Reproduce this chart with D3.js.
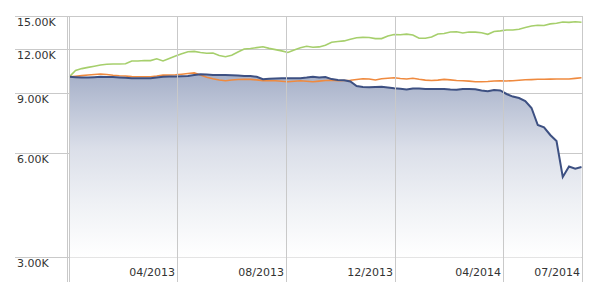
<!DOCTYPE html>
<html>
<head>
<meta charset="utf-8">
<script src="https://cdn.jsdelivr.net/npm/d3@7"></script>
<style>
  body { margin: 0; background: #fff; }
  text { font-family: "DejaVu Sans", Verdana, sans-serif; font-size: 11px; fill: #333; }
</style>
</head>
<body>
<svg id="chart" width="591" height="291"></svg>
<script>
// weekly growth of 10K, first week 01/12/2012
var firstWeek = '2012-12-01'

var fundValues = [10000, 9975, 9948, 9948, 9975, 10002, 9995, 9982, 9962, 9942,
  9909, 9902, 9902, 9902, 9955, 10002, 10015, 10028, 10041, 10048,
  10122, 10169, 10149, 10122, 10122, 10122, 10108, 10082, 10055, 10055,
  10002, 9843, 9870, 9896, 9902, 9902, 9902, 9902, 9948, 10008,
  9955, 9988, 9850, 9791, 9778, 9693, 9406, 9344, 9325, 9350,
  9356, 9319, 9270, 9233, 9189, 9257, 9245, 9220, 9220, 9220,
  9220, 9189, 9171, 9220, 9220, 9202, 9123, 9080, 9159, 9129,
  8918, 8765, 8683, 8511, 8122, 7252, 7143, 6785, 6519, 5129,
  5499, 5419, 5481]

var categoryValues = [10000, 10041, 10082, 10122, 10156, 10190, 10156, 10108, 10075, 10055,
  10015, 10008, 10008, 10008, 10055, 10115, 10122, 10135, 10176, 10224,
  10265, 10122, 9975, 9876, 9791, 9745, 9791, 9823, 9837, 9830,
  9797, 9752, 9745, 9745, 9712, 9680, 9712, 9739, 9706, 9680,
  9719, 9758, 9778, 9745, 9758, 9778, 9823, 9876, 9856, 9791,
  9876, 9909, 9935, 9889, 9856, 9902, 9837, 9784, 9758, 9784,
  9830, 9797, 9758, 9739, 9719, 9680, 9680, 9693, 9726, 9739,
  9726, 9745, 9771, 9804, 9817, 9837, 9843, 9850, 9856, 9856,
  9856, 9896, 9935]

var indexValues = [10000, 10431, 10563, 10648, 10734, 10820, 10870, 10892, 10892, 10906,
  11112, 11112, 11149, 11142, 11277, 11112, 11307, 11489, 11659, 11816,
  11847, 11760, 11706, 11721, 11520, 11428, 11550, 11799, 12038, 12078,
  12151, 12216, 12086, 11990, 11886, 11760, 11966, 12134, 12264, 12174,
  12207, 12346, 12596, 12655, 12705, 12842, 12979, 13005, 12996, 12902,
  12902, 13128, 13260, 13242, 13295, 13215, 12928, 12928, 13041, 13304,
  13348, 13482, 13500, 13393, 13482, 13473, 13420, 13277, 13527, 13581,
  13663, 13663, 13737, 13884, 14033, 14108, 14080, 14231, 14288, 14412,
  14373, 14432, 14393]

var yTicks = [3000, 6000, 9000, 12000, 15000]
var xTicks = ['2013-04-01', '2013-08-01', '2013-12-01', '2014-04-01', '2014-07-01']

var parseDate = d3.timeParse('%Y-%m-%d')
var start = parseDate(firstWeek)
var dates = fundValues.map(function (d, i) {
  return d3.timeDay.offset(start, i * 7)
})

var plotLeft = 69.3
var plotRight = 581.5
var plotTop = 16
var plotBottom = 257.4

// last tick sits on the right edge
var x = d3.scaleTime()
  .domain([start, dates[dates.length - 1]])
  .range([plotLeft, plotRight])
  .clamp(true)

var y = d3.scaleLog()
  .domain([3000, 15000])
  .range([plotBottom, plotTop])

var svg = d3.select('#chart')

// gradient under the fund line
var grad = svg.append('defs').append('linearGradient')
  .attr('id', 'fill')
  .attr('gradientUnits', 'userSpaceOnUse')
  .attr('x1', 0).attr('x2', 0)
  .attr('y1', y(10000)).attr('y2', plotBottom)
grad.append('stop').attr('offset', '0%').attr('stop-color', '#a8b2ca')
grad.append('stop').attr('offset', '40%').attr('stop-color', '#dbdfe9')
grad.append('stop').attr('offset', '70%').attr('stop-color', '#eff1f5')
grad.append('stop').attr('offset', '100%').attr('stop-color', '#ffffff')

// horizontal grid + labels
svg.selectAll('line.h')
  .data(yTicks)
  .enter().append('line')
  .attr('class', 'h')
  .attr('x1', 15)
  .attr('x2', 582)
  .attr('y1', function (d) { return Math.round(y(d)) + 0.5 })
  .attr('y2', function (d) { return Math.round(y(d)) + 0.5 })
  .attr('stroke', '#c9c9c9')

svg.selectAll('text.yAxis')
  .data(yTicks)
  .enter().append('text')
  .attr('class', 'yAxis')
  .attr('x', 17)
  .attr('y', function (d) { return Math.round(y(d)) + 10 })
  .text(function (d) { return d3.format('.2f')(d / 1000) + 'K' })

// area + lines
var area = d3.area()
  .x(function (d, i) { return x(dates[i]) })
  .y0(plotBottom)
  .y1(function (d) { return y(d) })

var line = d3.line()
  .x(function (d, i) { return x(dates[i]) })
  .y(function (d) { return y(d) })

svg.append('path')
  .datum(fundValues)
  .attr('d', area)
  .attr('fill', 'url(#fill)')

svg.append('path')
  .datum(indexValues)
  .attr('d', line)
  .attr('fill', 'none')
  .attr('stroke', '#a6cf6c')
  .attr('stroke-width', 1.6)

svg.append('path')
  .datum(categoryValues)
  .attr('d', line)
  .attr('fill', 'none')
  .attr('stroke', '#ef8a3f')
  .attr('stroke-width', 1.6)

svg.append('path')
  .datum(fundValues)
  .attr('d', line)
  .attr('fill', 'none')
  .attr('stroke', '#3d5082')
  .attr('stroke-width', 2)

// vertical grid + labels
var tickDates = xTicks.map(parseDate)
svg.selectAll('line.v')
  .data([plotLeft].concat(tickDates.map(function (d) { return x(d) })))
  .enter().append('line')
  .attr('class', 'v')
  .attr('x1', function (d) { return Math.round(d) + 0.5 })
  .attr('x2', function (d) { return Math.round(d) + 0.5 })
  .attr('y1', plotTop)
  .attr('y2', 282)
  .attr('stroke', '#c9c9c9')

svg.append('line')
  .attr('x1', plotLeft - 1.8).attr('x2', plotLeft - 1.8)
  .attr('y1', plotTop).attr('y2', 282)
  .attr('stroke', '#c9c9c9')

svg.selectAll('text.xAxis')
  .data(tickDates)
  .enter().append('text')
  .attr('class', 'xAxis')
  .attr('x', function (d) { return Math.round(x(d)) - 2 })
  .attr('y', 276)
  .attr('text-anchor', 'end')
  .text(d3.timeFormat('%m/%Y'))
</script>
</body>
</html>
